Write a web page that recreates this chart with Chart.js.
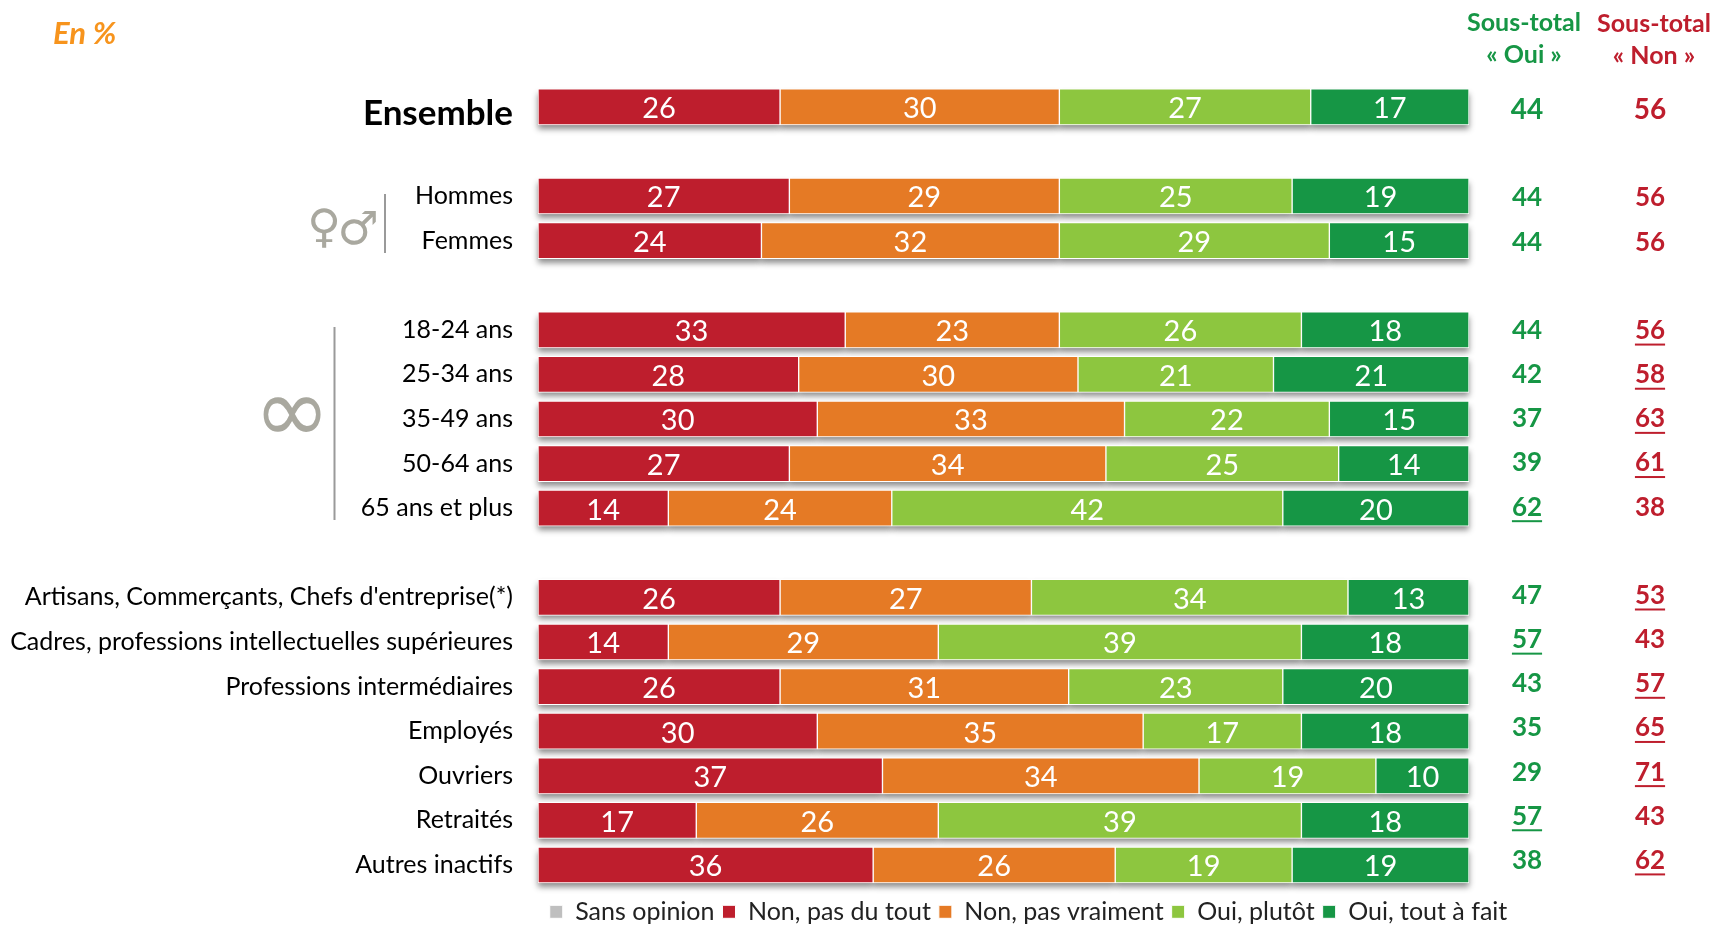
<!DOCTYPE html>
<html lang="fr"><head><meta charset="utf-8">
<style>html,body{margin:0;padding:0;background:#fff;overflow:hidden}canvas{display:block}</style>
<script src="https://cdn.jsdelivr.net/npm/chart.js@4"></script></head>
<body><canvas id="c" width="1713" height="926"></canvas>
<script>
const categories=["Ensemble","","Hommes","Femmes","","18-24 ans","25-34 ans","35-49 ans","50-64 ans","65 ans et plus","","Artisans, Commerçants, Chefs d'entreprise(*)","Cadres, professions intellectuelles supérieures","Professions intermédiaires","Employés","Ouvriers","Retraités","Autres inactifs"];
const sansOpinion=[null,null,null,null,null,null,null,null,null,null,null,null,null,null,null,null,null,null];
const nonPasDuTout=[26,null,27,24,null,33,28,30,27,14,null,26,14,26,30,37,17,36];
const nonPasVraiment=[30,null,29,32,null,23,30,33,34,24,null,27,29,31,35,34,26,26];
const ouiPlutot=[27,null,25,29,null,26,21,22,25,42,null,34,39,23,17,19,39,19];
const ouiToutAFait=[17,null,19,15,null,18,21,15,14,20,null,13,18,20,18,10,18,19];
const sousTotalOui=[44,null,44,44,null,44,42,37,39,62,null,47,57,43,35,29,57,38];
const sousTotalNon=[56,null,56,56,null,56,58,63,61,38,null,53,43,57,65,71,43,62];
const ouiSouligne=[0,0,0,0,0,0,0,0,0,1,0,0,1,0,0,0,1,0];
const nonSouligne=[0,0,0,0,0,1,1,1,1,0,0,1,0,1,1,1,0,1];
const seriesNames=["Sans opinion","Non, pas du tout","Non, pas vraiment","Oui, plutôt","Oui, tout à fait"];

const RED='#BE1E2D',ORANGE='#E57A25',LIGHT='#8DC63F',GREEN='#169645',GREY='#BFBFBF';
const FONT='Lato, Carlito, sans-serif';
function ds(i,data,color){return {label:seriesNames[i],data,backgroundColor:color,borderColor:'#fff',
  borderWidth:1,borderSkipped:false,barThickness:36,stack:'s'};}

const decor={id:'decor',
 afterLayout(chart){const l=chart.legend;l.left+=294;l.right+=294;l.top+=4;l.bottom+=4;},
 beforeDatasetsDraw(chart){
  const c=chart.ctx;c.save();c.fillStyle='#fff';c.shadowColor='rgba(0,0,0,0.45)';c.shadowBlur=6;c.shadowOffsetY=5;
  chart.data.datasets.forEach((d,di)=>{const m=chart.getDatasetMeta(di);
    d.data.forEach((v,i)=>{if(v==null)return;const b=m.data[i];
      c.fillRect(b.base,b.y-b.height/2,b.x-b.base,b.height-1);});});
  c.restore();
 },
 afterDatasetsDraw(chart){
  const c=chart.ctx,y=chart.scales.y;
  c.save();c.textAlign='center';c.textBaseline='middle';
  // bar value labels
  chart.data.datasets.forEach((d,di)=>{const m=chart.getDatasetMeta(di);
    d.data.forEach((v,i)=>{if(v==null)return;const b=m.data[i];
      c.fillStyle='#fff';c.font='29px '+FONT;
      c.fillText(String(v),(b.base+b.x)/2,b.y+2);});});
  // subtotal columns
  const y0=y.getPixelForValue(0);
  const col=(arr,und,cx,color)=>{c.fillStyle=color;c.strokeStyle=color;
    arr.forEach((v,i)=>{if(v==null)return;
      const py=y0+3+(y.getPixelForValue(i)-y0)*0.99;
      c.font=(i===0?'bold 28px ':'bold 26px ')+FONT;
      c.fillText(String(v),cx,py);
      if(und[i]){const w=c.measureText(String(v)).width;c.lineWidth=2;c.beginPath();c.moveTo(cx-w/2,py+14);c.lineTo(cx+w/2,py+14);c.stroke();}
    });};
  col(sousTotalOui,ouiSouligne,1527,GREEN);
  col(sousTotalNon,nonSouligne,1650,RED);
  // headers
  c.font='bold 25px '+FONT;
  c.fillStyle=GREEN;c.fillText('Sous-total',1524,23);c.fillText('« Oui »',1524,55);
  c.fillStyle=RED;c.fillText('Sous-total',1654,24);c.fillText('« Non »',1654,56);
  // note
  c.textAlign='left';c.fillStyle='#F7941D';c.font='italic bold 31px '+FONT;c.fillText('En %',53,34);
  // group markers
  c.textAlign='center';c.fillStyle='#A9A89F';
  c.font='46px "DejaVu Sans"';c.fillText('♀',324,230);c.fillText('♂',358,232);
  c.font='92px "DejaVu Sans"';c.fillText('∞',292,418);
  c.strokeStyle='#9A9A9A';c.lineWidth=2;
  c.beginPath();c.moveTo(385,194);c.lineTo(385,253);c.moveTo(334.5,327);c.lineTo(334.5,520);c.stroke();
  c.restore();
 }};

new Chart(document.getElementById('c'),{type:'bar',
 data:{labels:categories,datasets:[ds(0,sansOpinion,GREY),ds(1,nonPasDuTout,RED),ds(2,nonPasVraiment,ORANGE),ds(3,ouiPlutot,LIGHT),ds(4,ouiToutAFait,GREEN)]},
 plugins:[decor],
 options:{indexAxis:'y',responsive:false,animation:false,
  layout:{padding:{left:0,right:244,top:84.5,bottom:-4.3}},
  scales:{
   x:{stacked:true,min:0,max:100,display:false},
   y:{stacked:true,grid:{display:false},border:{display:false},
      afterFit(s){s.width=538;},
      ticks:{autoSkip:false,padding:17,color:'#000',
        callback(v,i){const t=this.getLabelForValue(v);return i===0?['',t]:t;},
        font:(ctx)=>ctx.index===0?{family:FONT,size:35,weight:'bold',lineHeight:'14px'}:{family:FONT,size:25,weight:'normal'}}}
  },
  plugins:{tooltip:{enabled:false},
   legend:{position:'bottom',align:'center',
     labels:{color:'#222',font:{family:FONT,size:25},boxWidth:13,boxHeight:13,padding:8}}}
 }});
</script></body></html>
